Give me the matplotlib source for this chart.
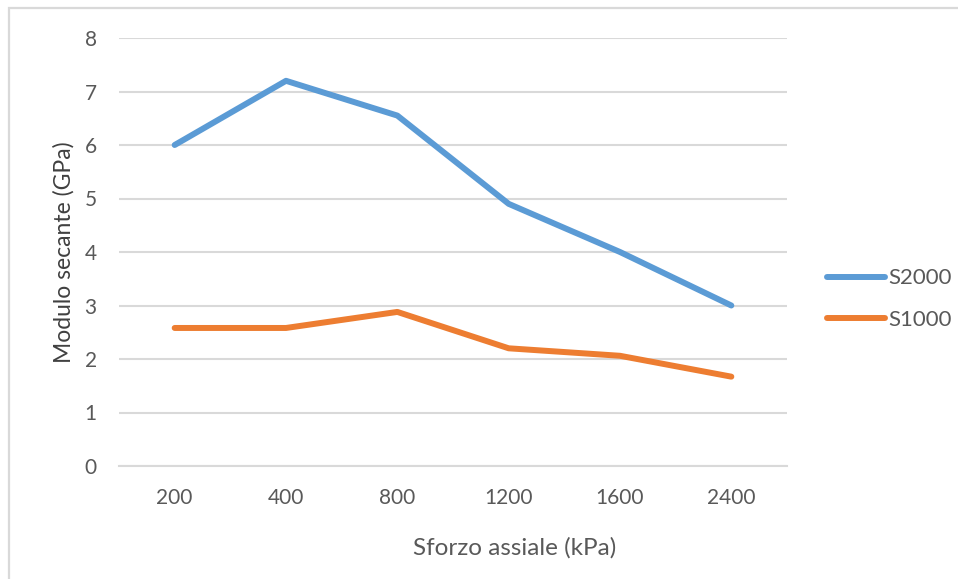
import matplotlib

matplotlib.use("Agg")
import matplotlib.pyplot as plt
from matplotlib.patches import Rectangle

plt.rcParams["font.family"] = ["Lato", "DejaVu Sans"]

# axial stress levels (kPa) and secant modulus (GPa) per sample
categories = ["200", "400", "800", "1200", "1600", "2400"]
s2000 = [6.0, 7.2, 6.55, 4.9, 4.0, 3.0]
s1000 = [2.58, 2.58, 2.88, 2.2, 2.06, 1.67]

BLUE = "#5B9BD5"
ORANGE = "#ED7D31"
GRID = "#D9D9D9"
TICK_TEXT = "#595959"

fig = plt.figure(figsize=(9.58, 5.79), dpi=100)

# thin chart-area frame
fig.patches.append(
    Rectangle((9 / 958, -0.05), 1.1, 1 - 8 / 579 + 0.05, transform=fig.transFigure,
              fill=False, edgecolor=GRID, linewidth=1.6)
)

ax = fig.add_axes([119 / 958, 113 / 579, 668 / 958, 428 / 579])
x = list(range(len(categories)))
ax.plot(x, s2000, color=BLUE, lw=4.3, solid_capstyle="round", solid_joinstyle="round", label="S2000")
ax.plot(x, s1000, color=ORANGE, lw=4.3, solid_capstyle="round", solid_joinstyle="round", label="S1000")

ax.set_xlim(-0.5, len(categories) - 0.5)
ax.set_ylim(0, 8)
ax.set_yticks(range(0, 9))
ax.set_xticks(x)
ax.set_xticklabels(categories)
ax.yaxis.grid(True, color=GRID, lw=1.5)
ax.set_axisbelow(True)
for side in ["top", "right", "left"]:
    ax.spines[side].set_visible(False)
ax.spines["bottom"].set_color(GRID)
ax.spines["bottom"].set_linewidth(1.5)
ax.tick_params(length=0, labelsize=15, colors=TICK_TEXT)
ax.tick_params(axis="y", pad=16)
ax.tick_params(axis="x", pad=16)

fig.text(64 / 958, 1 - 252 / 579, "Modulo secante (GPa)", rotation=90,
         ha="center", va="center", fontsize=16.5, color="#404040")
fig.text(515 / 958, 1 - 548 / 579, "Sforzo assiale (kPa)",
         ha="center", va="center", fontsize=17.5, color=TICK_TEXT)

leg = fig.legend(loc="center left", bbox_to_anchor=(807 / 958, 1 - 299 / 579),
                 frameon=False, fontsize=16, handlelength=2.6, handletextpad=0.15,
                 labelspacing=0.95)
for t in leg.get_texts():
    t.set_color(TICK_TEXT)

fig.savefig("out.png", dpi=100)
